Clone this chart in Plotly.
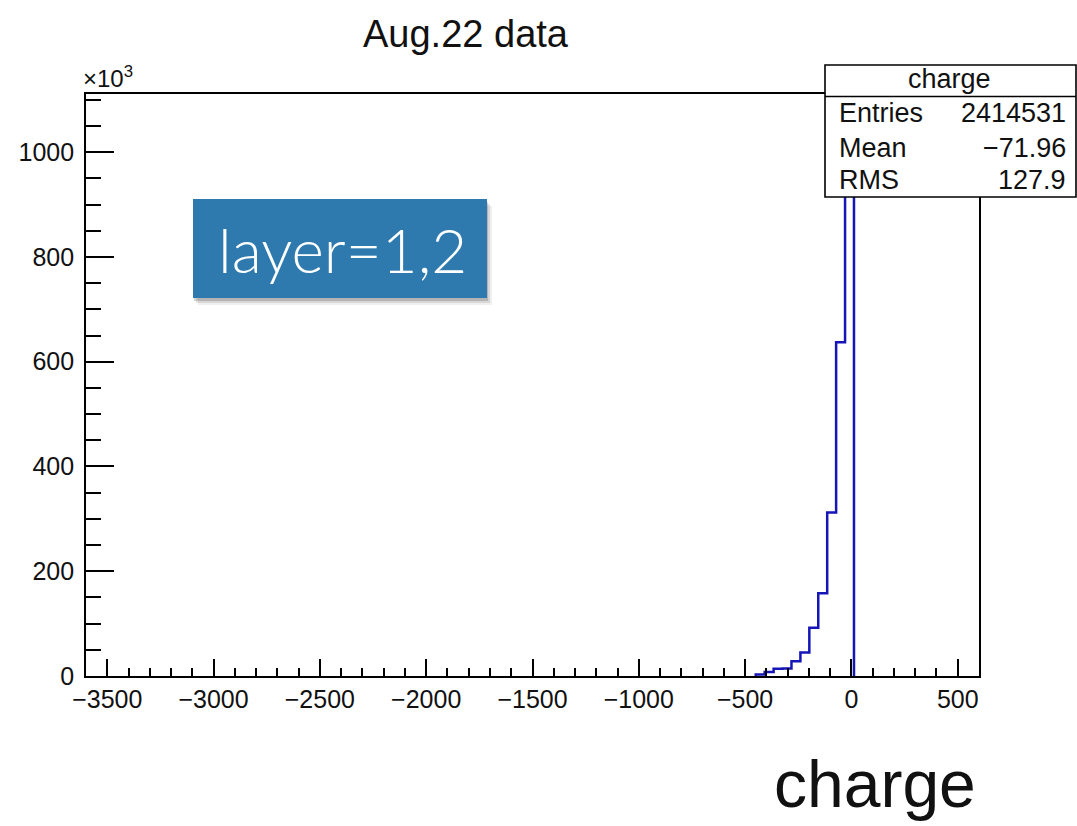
import plotly.graph_objects as go

# Histogram "charge": 100 bins on [-3600, 600], bin width 42; only non-empty bins listed
bin_width = 42
bin_left = [-450, -408, -366, -324, -282, -240, -198, -156, -114, -72, -30]
counts_k = [3, 7.5, 14, 14.5, 28, 45, 92, 158, 312, 637, 1058]  # entries, x10^3

x_range = [-3600, 600]
y_range = [0, 1111]

stats_title = "charge"
stats_rows = [("Entries", "2414531"), ("Mean", "\u221271.96"), ("RMS", "127.9")]
title_text = "Aug.22 data"
label_text = "layer=1,2"
axis_title = "charge"

W, H = 1077, 826
ML, MR, MT, MB = 86, 98, 94, 150
PW, PH = W - ML - MR, H - MT - MB


def px(xp):
    return (xp - ML) / PW


def py(yp):
    return (H - MB - yp) / PH


# step outline of the histogram
xs = [bin_left[0]] + bin_left + [bin_left[-1] + bin_width]
ys = [0] + counts_k + [0]

fig = go.Figure()
fig.add_trace(go.Scatter(
    x=xs, y=ys, mode="lines", line_shape="hv",
    line=dict(color="#1515b8", width=2.5),
    hoverinfo="skip", showlegend=False,
))

font_family = "Liberation Sans, Arial, Helvetica, sans-serif"

fig.update_layout(
    width=W, height=H,
    margin=dict(l=ML, r=MR, t=MT, b=MB, pad=0),
    paper_bgcolor="white", plot_bgcolor="white",
    showlegend=False,
    font=dict(family=font_family, color="black"),
)

fig.update_xaxes(
    range=x_range, showgrid=False, zeroline=False,
    showline=True, mirror=True, linecolor="black", linewidth=1.6,
    ticks="inside", ticklen=17, tickwidth=1.5, tickcolor="black",
    tick0=0, dtick=500,
    minor=dict(ticks="inside", ticklen=8, tickwidth=1.5, tickcolor="black", dtick=100),
    tickfont=dict(size=25, family=font_family, color="#111"),
    ticklabelstandoff=0,
)
fig.update_yaxes(
    range=y_range, showgrid=False, zeroline=False,
    showline=True, mirror=True, linecolor="black", linewidth=1.6,
    ticks="inside", ticklen=28, tickwidth=1.5, tickcolor="black",
    tick0=0, dtick=200,
    minor=dict(ticks="inside", ticklen=15, tickwidth=1.5, tickcolor="black", dtick=50),
    tickfont=dict(size=25, family=font_family, color="#111"),
    ticklabelstandoff=5,
)

shapes = []
# soft drop shadow for the label box
for d, op in [(7, 0.06), (5, 0.10), (3, 0.16)]:
    shapes.append(dict(type="rect", xref="paper", yref="paper", layer="above",
                       x0=px(193 + d - 2), x1=px(487 + d - 2), y0=py(298 + d), y1=py(199 + d),
                       fillcolor=f"rgba(0,0,0,{op})", line=dict(width=0)))
shapes.append(dict(type="rect", xref="paper", yref="paper", layer="above",
                   x0=px(193), x1=px(487), y0=py(298), y1=py(199),
                   fillcolor="#2e7aae", line=dict(width=0)))
# statistics box
shapes.append(dict(type="rect", xref="paper", yref="paper", layer="above",
                   x0=px(825), x1=px(1076), y0=py(197), y1=py(65),
                   fillcolor="white", line=dict(color="black", width=1.6)))
shapes.append(dict(type="line", xref="paper", yref="paper", layer="above",
                   x0=px(825), x1=px(1076), y0=py(96.5), y1=py(96.5),
                   line=dict(color="black", width=1.6)))
fig.update_layout(shapes=shapes)

ann = []
ann.append(dict(text=title_text, x=px(465.5), y=py(34), xref="paper", yref="paper",
                xanchor="center", yanchor="middle", showarrow=False,
                font=dict(size=38, family=font_family, color="#111")))
ann.append(dict(text="\u00d710<sup>3</sup>", x=px(81), y=py(77), xref="paper", yref="paper",
                xanchor="left", yanchor="middle", showarrow=False,
                font=dict(size=24, family=font_family, color="#111")))
ann.append(dict(text=label_text, x=px(342), y=py(249), xref="paper", yref="paper",
                xanchor="center", yanchor="middle", showarrow=False,
                font=dict(size=62, family="Lato, Roboto, Open Sans, sans-serif",
                          color="white", weight=300)))
ann.append(dict(text=axis_title, x=px(978), y=py(784), xref="paper", yref="paper",
                xanchor="right", yanchor="middle", showarrow=False,
                font=dict(size=66, family=font_family, color="#111")))
ann.append(dict(text=stats_title, x=px(949), y=py(79), xref="paper", yref="paper",
                xanchor="center", yanchor="middle", showarrow=False,
                font=dict(size=27, family=font_family, color="#111")))
for (name, val), yb in zip(stats_rows, [123, 158, 190]):
    ann.append(dict(text=name, x=px(837), y=py(yb - 10), xref="paper", yref="paper",
                    xanchor="left", yanchor="middle", showarrow=False,
                    font=dict(size=27, family=font_family, color="#111")))
    ann.append(dict(text=val, x=px(1068), y=py(yb - 10), xref="paper", yref="paper",
                    xanchor="right", yanchor="middle", showarrow=False,
                    font=dict(size=27, family=font_family, color="#111")))
fig.update_layout(annotations=ann)

fig.write_html("out.html")
